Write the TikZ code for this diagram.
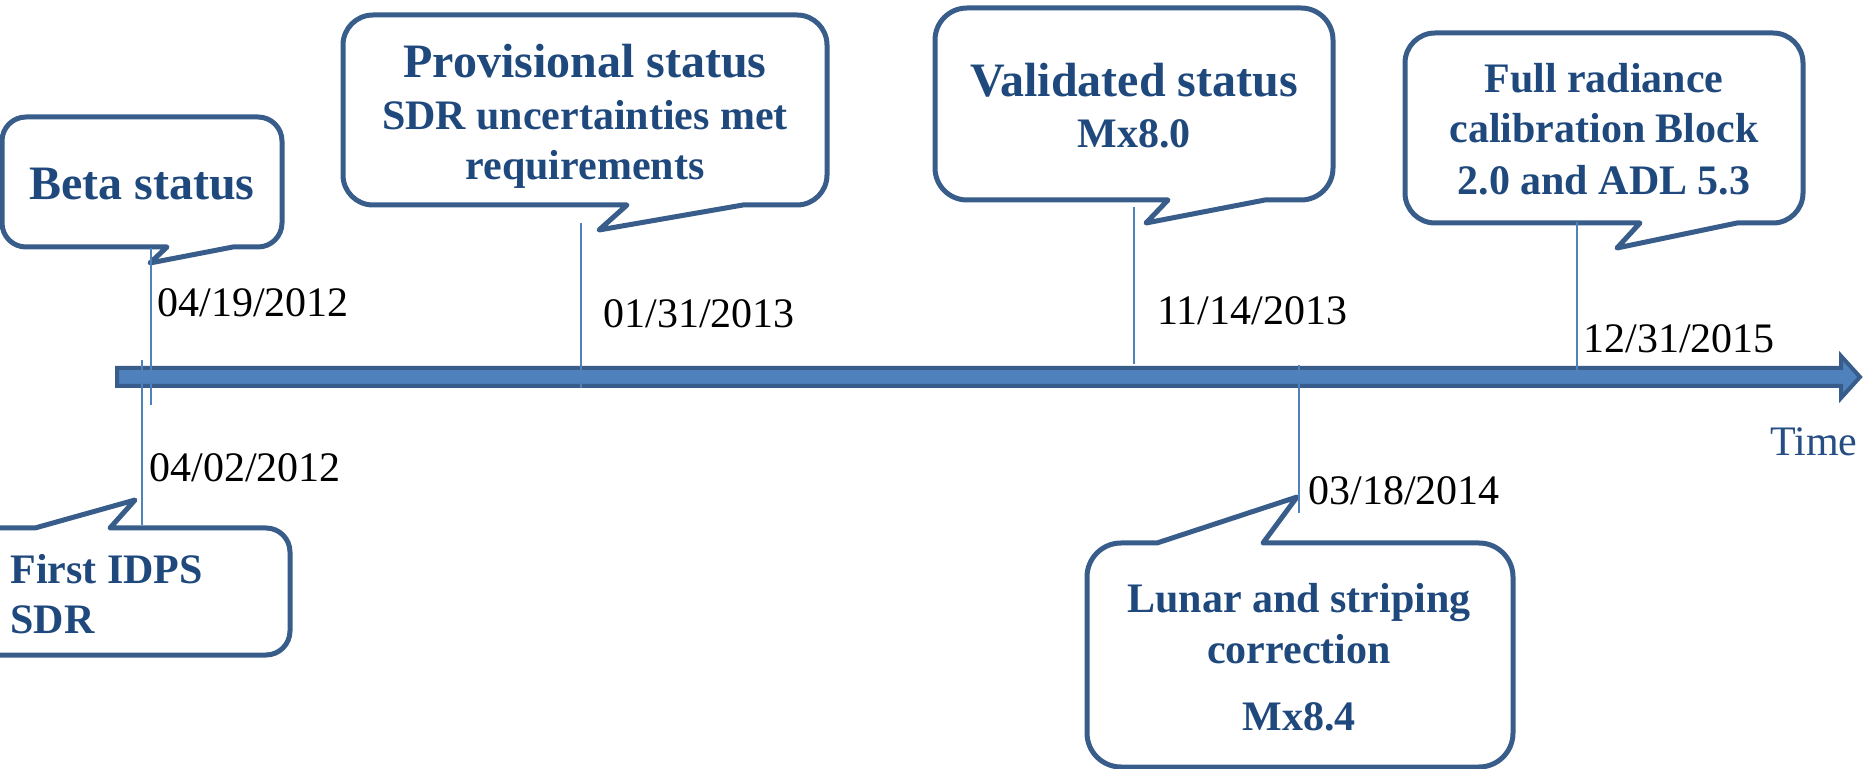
\documentclass[tikz,border=0pt]{standalone}
\usepackage{fontspec}
\setmainfont{Liberation Serif}
\definecolor{cborder}{RGB}{56,93,138}
\definecolor{ctext}{RGB}{31,73,125}
\definecolor{cbar}{RGB}{79,129,189}
\definecolor{ctime}{RGB}{38,78,132}
% bottom-pointer callout: L,T,R,B,r,b1,tipx,tipy,b2
\newcommand{\mycalloutdown}[9]{%
  \draw[callout] (#1+#5,#2) -- (#3-#5,#2) arc(-90:0:#5) -- (#3,#4-#5) arc(0:90:#5)
    -- (#9,#4) -- (#7,#8) -- (#6,#4) -- (#1+#5,#4) arc(90:180:#5) -- (#1,#2+#5) arc(180:270:#5) -- cycle;}
% top-pointer callout: L,T,R,B,r,b1,tipx,tipy,b2
\newcommand{\mycalloutup}[9]{%
  \draw[callout] (#1+#5,#2) -- (#6,#2) -- (#7,#8) -- (#9,#2) -- (#3-#5,#2) arc(-90:0:#5) -- (#3,#4-#5) arc(0:90:#5)
    -- (#1+#5,#4) arc(90:180:#5) -- (#1,#2+#5) arc(180:270:#5) -- cycle;}
\tikzset{
  callout/.style={draw=cborder, line width=2.5pt, fill=white, line join=round},
  tickline/.style={draw=cbar, line width=1pt},
  bigtxt/.style={font=\bfseries\fontsize{24}{28}\selectfont, text=ctext, inner sep=0pt, anchor=base},
  midtxt/.style={font=\bfseries\fontsize{21}{25}\selectfont, text=ctext, inner sep=0pt, anchor=base},
  datetxt/.style={font=\fontsize{21}{25}\selectfont, text=black, inner sep=0pt, anchor=base west},
  axisbar/.style={fill=cbar, draw=cborder, line width=2pt, line join=miter}
}
\begin{document}
\begin{tikzpicture}[x=0.5pt,y=-0.5pt]
\useasboundingbox (0,0) rectangle (1863,769);
\clip (0,0) rectangle (1863,769);

% callouts
\mycalloutdown{2}{117}{282}{247}{24}{167}{150}{263}{233}
\mycalloutdown{343}{15}{827}{205}{30}{627}{599}{230}{743}
\mycalloutdown{935}{8}{1333}{200}{32}{1168}{1146}{223}{1265}
\mycalloutdown{1405}{33}{1803}{223}{30}{1640}{1617}{248}{1737}
\mycalloutup{-40}{528}{290}{655}{24}{35}{135}{500}{110}
\mycalloutup{1087}{543}{1513}{767}{34}{1157}{1297}{497}{1263}

% callout texts
\node[bigtxt] (beta) at (142,200) {Beta status};
\node[bigtxt] (prov) at (585,78) {Provisional status};
\node[midtxt] (prov2) at (585,130) {SDR uncertainties met};
\node[midtxt] (prov3) at (585,180) {requirements};
\node[bigtxt] (valid) at (1134,97) {Validated status};
\node[midtxt] (valid2) at (1134,148) {Mx8.0};
\node[midtxt] (full1) at (1604,93) {Full radiance};
\node[midtxt] (full2) at (1604,143) {calibration Block};
\node[midtxt] (full3) at (1604,195) {2.0 and ADL 5.3};
\node[midtxt, anchor=base west] (first1) at (10,583) {First IDPS};
\node[midtxt, anchor=base west] (first2) at (10,633) {SDR};
\node[midtxt] (lunar1) at (1299,612) {Lunar and striping};
\node[midtxt] (lunar2) at (1299,663) {correction};
\node[midtxt] (lunar3) at (1299,730) {Mx8.4};

% time axis
\draw[axisbar] (117,368) -- (1841,368) -- (1841,356) -- (1860,377) -- (1841,398) -- (1841,386) -- (117,386) -- cycle;
\node[font=\fontsize{21}{25}\selectfont, text=ctime, inner sep=0pt, anchor=base west] (time) at (1770,456) {Time};

% tick lines
\coordinate (t1a) at (151,248); \coordinate (t1b) at (151,405);
\coordinate (t2a) at (142,360); \coordinate (t2b) at (142,525);
\coordinate (t3a) at (581,223); \coordinate (t3b) at (581,388);
\coordinate (t4a) at (1134,207); \coordinate (t4b) at (1134,364);
\coordinate (t5a) at (1299,365); \coordinate (t5b) at (1299,513);
\coordinate (t6a) at (1577,222); \coordinate (t6b) at (1577,380);
\draw[tickline] (t1a) -- (t1b);
\draw[tickline] (t2a) -- (t2b);
\draw[tickline] (t3a) -- (t3b);
\draw[tickline] (t4a) -- (t4b);
\draw[tickline] (t5a) -- (t5b);
\draw[tickline] (t6a) -- (t6b);

% dates
\node[datetxt] (d1) at (157,317) {04/19/2012};
\node[datetxt] (d2) at (149,482) {04/02/2012};
\node[datetxt] (d3) at (603,328) {01/31/2013};
\node[datetxt] (d4) at (1157,325) {11/14/2013};
\node[datetxt] (d5) at (1583,353) {12/31/2015};
\node[datetxt] (d6) at (1308,505) {03/18/2014};
\end{tikzpicture}
\end{document}
